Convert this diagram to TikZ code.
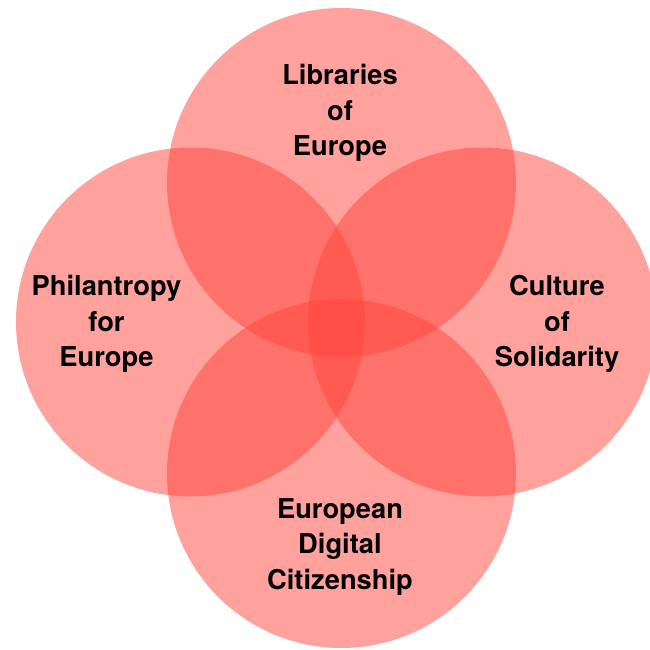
\documentclass[tikz,border=0pt]{standalone}
\usepackage{fontspec}
\setmainfont{TeX Gyre Heros}
\usetikzlibrary{positioning}
\definecolor{venred}{RGB}{255,68,58}

\begin{document}
\begin{tikzpicture}[%
    x=1pt, y=-1pt,              % pixel-like grid, y grows downwards
    every node/.style={font=\bfseries\fontsize{27.3}{35.5}\selectfont},
    ]
\tikzset{
  ring/.style={fill=venred, fill opacity=0.5, draw=none},
  lbl/.style={align=center, text=black, inner sep=0pt}
}
    \useasboundingbox (0,0) rectangle (649,650);
    % the four overlapping circles
    \coordinate (ctop) at (341.5,182.5);
    \coordinate (cleft) at (190.5,322);
    \coordinate (cright) at (482.5,322);
    \coordinate (cbot) at (341.5,473.5);
    \fill [ring] (ctop) circle (174.5);
    \fill [ring] (cleft) circle (174.5);
    \fill [ring] (cright) circle (174.5);
    \fill [ring] (cbot) circle (174.5);
    % labels
    \node [lbl] (lib) at (340,113) {Libraries\\of\\Europe};
    \node [lbl] (phil) at (106.5,324) {Philantropy\\for\\Europe};
    \node [lbl] (cult) at (557,324) {Culture\\of\\Solidarity};
    \node [lbl] (eudc) at (340,547) {European\\Digital\\Citizenship};
\end{tikzpicture}
\end{document}
